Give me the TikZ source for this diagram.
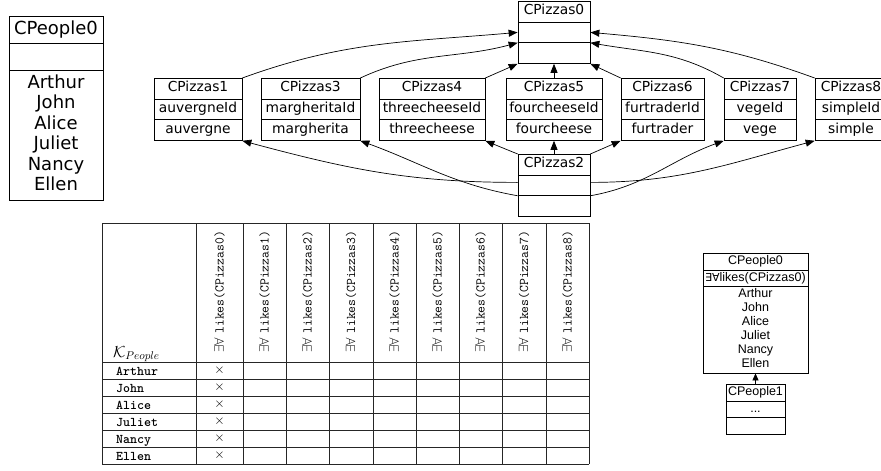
\RequirePackage{fix-cm}
\documentclass[tikz,border=0pt]{standalone}
\usepackage{fontspec}
\newfontfamily\dejavu{DejaVu Sans}
\newfontfamily\liber{Liberation Sans}
\usetikzlibrary{shapes.multipart,arrows.meta}
\tikzset{
  umlclass/.style={draw, rectangle split, rectangle split parts=3, anchor=north, align=center, text width=#1, inner xsep=2pt, inner ysep=2pt, line width=0.7pt, font=\dejavu\fontsize{13.8}{16}\selectfont},
  isa/.style={-{Triangle[length=9pt,width=7pt]}, line width=0.7pt},
  grid/.style={black!85, line width=0.7pt},
  tabtext/.style={inner sep=0pt, font=\fontsize{13.3}{16}\selectfont},
}
\begin{document}
\begin{tikzpicture}[x=1pt,y=1pt]
\useasboundingbox (0,0) rectangle (881,-471);
% Individuals
\node[umlclass=88, inner xsep=3pt, inner ysep=3pt, font=\dejavu\fontsize{18}{20.5}\selectfont] (people) at (56,-16)
  {\strut CPeople0\nodepart{two}\strut\nodepart{three}\strut Arthur\\John\\Alice\\Juliet\\Nancy\\Ellen\strut};
% Pizza hierarchy
\node[umlclass=68] (p0) at (554,-1) {\strut CPizzas0\nodepart{two}\strut\nodepart{three}\strut};
\node[umlclass=84] (p1) at (198,-78) {\strut CPizzas1\nodepart{two}\strut auvergneId\nodepart{three}\strut auvergne};
\node[umlclass=95] (p3) at (310.5,-78) {\strut CPizzas3\nodepart{two}\strut margheritaId\nodepart{three}\strut margherita};
\node[umlclass=102] (p4) at (432,-78) {\strut CPizzas4\nodepart{two}\strut threecheeseId\nodepart{three}\strut threecheese};
\node[umlclass=92] (p5) at (554,-78) {\strut CPizzas5\nodepart{two}\strut fourcheeseId\nodepart{three}\strut fourcheese};
\node[umlclass=79] (p6) at (662.5,-78) {\strut CPizzas6\nodepart{two}\strut furtraderId\nodepart{three}\strut furtrader};
\node[umlclass=68] (p7) at (760,-78) {\strut CPizzas7\nodepart{two}\strut vegeId\nodepart{three}\strut vege};
\node[umlclass=68] (p8) at (851,-78) {\strut CPizzas8\nodepart{two}\strut simpleId\nodepart{three}\strut simple};
\node[umlclass=68] (p2) at (554,-154) {\strut CPizzas2\nodepart{two}\strut\nodepart{three}\strut};
% up to CPizzas0
\draw[isa] (p1.north east) to[out=20,in=185] (p0.two west);
\draw[isa] (p3.north east) to[out=25,in=195] (p0.two split west);
\draw[isa] (p4.north east) -- (p0.south west);
\draw[isa] (p5.north) -- (p0.south);
\draw[isa] (p6.north west) -- (p0.south east);
\draw[isa] (p7.north west) to[out=150,in=-10] (p0.two split east);
\draw[isa] (p8.north west) to[out=160,in=-5] (p0.two east);
% up from CPizzas2
\draw[isa] ([yshift=3pt]p2.west) to[out=180,in=-15] (p1.south east);
\draw[isa] (p2.two split west) to[out=170,in=-20] (p3.south east);
\draw[isa] (p2.north west) -- (p4.south east);
\draw[isa] (p2.north) -- (p5.south);
\draw[isa] (p2.north east) -- (p6.south west);
\draw[isa] (p2.two split east) to[out=10,in=200] (p7.south west);
\draw[isa] ([yshift=3pt]p2.east) to[out=0,in=195] (p8.south west);
% Context table
\foreach \x in {102,196,243,286,329,373,416,459,502,546,589}
  \draw[grid] (\x,-223) -- (\x,-464);
\foreach \y in {223,362,379,396,413,430,447,464}
  \draw[grid] (102,-\y) -- (589,-\y);
\node[tabtext, font=\fontsize{16}{18}\selectfont, anchor=base west] (kappa) at (113,-357) {$\mathcal{K}_{People}$};
\foreach \cx [count=\i from 0] in {219.5,264.5,307.5,351,394.5,437.5,480.5,524,567.5}
  \node[tabtext, rotate=90, anchor=west] (h\i) at (\cx,-353) {$\exists\forall$ \texttt{likes(CPizzas\i)}};
\foreach \n [count=\i] in {Arthur,John,Alice,Juliet,Nancy,Ellen}{
  \node[tabtext, anchor=base west] (r\i) at (116,{-358-17*\i}) {\textbf{\texttt{\n}}};
  \node[tabtext] (x\i) at (219.5,{-353.5-17*\i}) {$\times$};
}
% Concept lattice
\node[umlclass=103, inner xsep=1pt, inner ysep=1pt, line width=0.6pt, font=\liber\fontsize{12.5}{14}\selectfont] (c0) at (755.5,-253)
  {\strut CPeople0\nodepart{two}\strut{\dejavu\fontsize{11}{14}\selectfont ∃∀}likes(CPizzas0)\nodepart{three}\strut Arthur\\John\\Alice\\Juliet\\Nancy\\Ellen\strut};
\node[umlclass=57, inner xsep=1pt, inner ysep=1pt, line width=0.6pt, font=\liber\fontsize{12.5}{14}\selectfont] (c1) at (755.5,-384)
  {\strut CPeople1\nodepart{two}\strut ...\nodepart{three}\strut};
\draw[-{Triangle[length=7pt,width=6pt]}, line width=0.6pt] (c1.north) -- (c0.south);
\end{tikzpicture}
\end{document}
